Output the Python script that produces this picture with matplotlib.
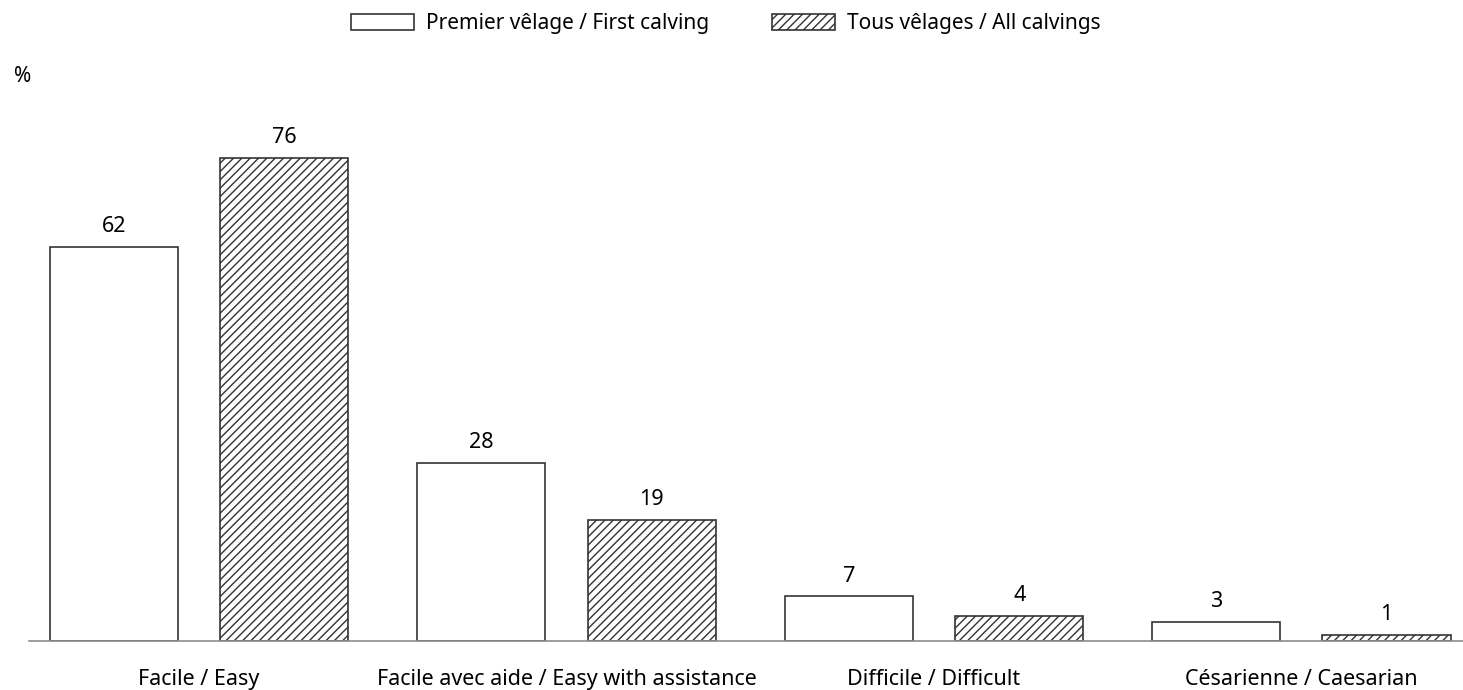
import matplotlib
matplotlib.use("Agg")
import matplotlib.pyplot as plt
import numpy as np

categories = ["Facile / Easy", "Facile avec aide / Easy with assistance",
              "Difficile / Difficult", "Césarienne / Caesarian"]
first_calving = [62, 28, 7, 3]
all_calvings = [76, 19, 4, 1]
series_labels = ["Premier vêlage / First calving", "Tous vêlages / All calvings"]

plt.rcParams['font.family'] = ['Noto Sans', 'DejaVu Sans']
plt.rcParams['hatch.linewidth'] = 1.0
plt.rcParams['hatch.color'] = '#222222'

W, H = 1463, 690
fig = plt.figure(figsize=(W / 100, H / 100), dpi=100)
ax = fig.add_axes([29 / W, 1 - 641 / H, 1 - 29 / W, (641 - 80) / H])

x = np.arange(len(categories))
bw = 0.349
off = 0.232
b1 = ax.bar(x - off, first_calving, bw, facecolor='white', edgecolor='#333333',
            linewidth=1.2, label=series_labels[0])
b2 = ax.bar(x + off, all_calvings, bw, facecolor='white', edgecolor='#333333',
            hatch='////', linewidth=1.2, label=series_labels[1])

for bars, vals in ((b1, first_calving), (b2, all_calvings)):
    for r, v in zip(bars, vals):
        ax.annotate(str(v), (r.get_x() + r.get_width() / 2, v),
                    xytext=(0, 7), textcoords='offset points',
                    ha='center', va='bottom', fontsize=15.5)

ax.set_xlim(-0.463, 3.44)
ax.set_ylim(0, 561 / 6.36)
for s in ('top', 'right', 'left'):
    ax.spines[s].set_visible(False)
ax.spines['bottom'].set_color('#8c8c8c')
ax.spines['bottom'].set_linewidth(1.2)
ax.set_yticks([])
ax.set_xticks(x)
ax.set_xticklabels(categories, fontsize=15.5)
ax.tick_params(axis='x', length=0, pad=20)

fig.text(14 / W, 1 - 76 / H, "%", fontsize=15, va='center', ha='left')

fig.legend(handles=[b1, b2], labels=series_labels, loc='center',
           bbox_to_anchor=(726 / W, 1 - 24 / H), ncol=2, frameon=False,
           fontsize=15, handlelength=3.0, handleheight=0.8,
           columnspacing=3.0, handletextpad=0.6)

fig.savefig("out.png", dpi=100)
